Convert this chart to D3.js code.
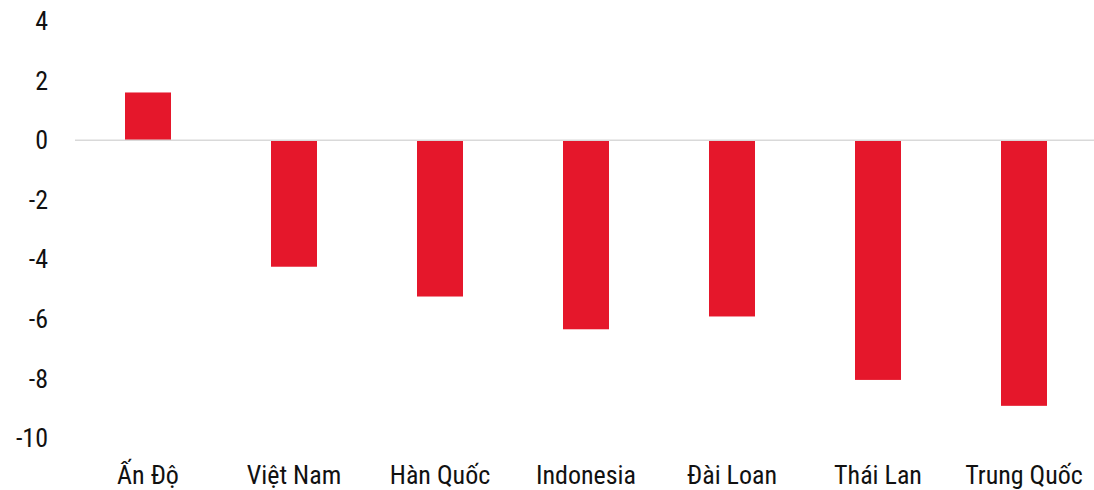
<!DOCTYPE html>
<html><head><meta charset="utf-8">
<script src="https://cdn.jsdelivr.net/npm/d3@7"></script>
<style>
html,body{margin:0;padding:0;background:#fff;}
svg text{font-family:"Liberation Sans Narrow","Roboto Condensed","Liberation Sans",sans-serif;fill:#111;}
</style></head>
<body><svg id="c" width="1094" height="490"></svg>
<script>
const categories = ["Ấn Độ","Việt Nam","Hàn Quốc","Indonesia","Đài Loan","Thái Lan","Trung Quốc"];
const values = [1.6,-4.25,-5.25,-6.35,-5.92,-8.05,-8.92];
const yTicks = [4,2,0,-2,-4,-6,-8,-10];

const svg = d3.select("#c");
const x = d3.scaleBand().domain(categories).range([75,1097]).paddingInner(0.685).paddingOuter(0.3425);
const y = d3.scaleLinear().domain([-10,4]).range([438,21]);

// y tick labels
svg.append("g").selectAll("text").data(yTicks).join("text")
  .attr("x",48).attr("y",d=>y(d)).attr("dy","0.35em")
  .attr("text-anchor","end").style("font-size","26px")
  .text(d=>d);

// bars
svg.append("g").selectAll("rect").data(values).join("rect")
  .attr("x",(d,i)=>x(categories[i]))
  .attr("width",x.bandwidth())
  .attr("y",d=>y(Math.max(0,d)))
  .attr("height",d=>Math.abs(y(d)-y(0)))
  .attr("fill","#e5172b");

// zero line
svg.append("line").attr("x1",75).attr("x2",1094).attr("y1",y(0)).attr("y2",y(0))
  .attr("stroke","#d9d9d9").attr("stroke-width",1.5);

// category labels
svg.append("g").selectAll("text").data(categories).join("text")
  .attr("x",d=>x(d)+x.bandwidth()/2).attr("y",484)
  .attr("text-anchor","middle").style("font-size","26px")
  .text(d=>d);
</script></body></html>
